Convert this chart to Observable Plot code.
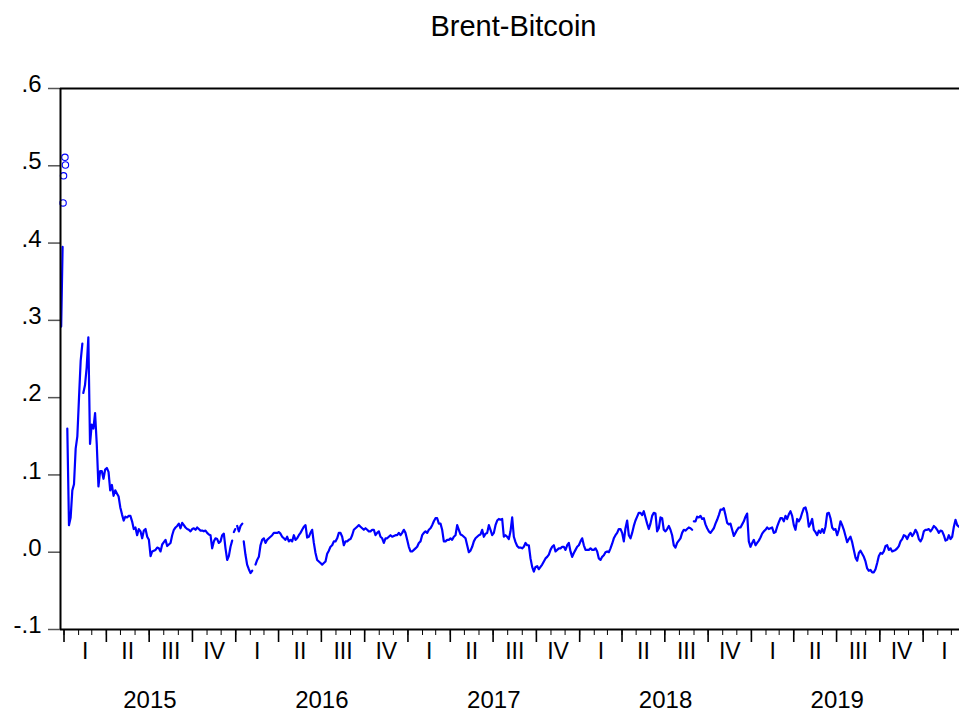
<!DOCTYPE html>
<html>
<head>
<meta charset="utf-8">
<script src="https://cdn.jsdelivr.net/npm/d3@7"></script>
<script src="https://cdn.jsdelivr.net/npm/@observablehq/plot@0.6"></script>
<style>
  html, body { margin: 0; padding: 0; background: #fff; overflow: hidden; }
  #wrap { width: 959px; height: 725px; position: relative; font-family: "Liberation Sans", Arial, sans-serif; overflow: hidden; }
  #title { height: 60px; box-sizing: border-box; padding: 12px 0 0 60px; width: 967px; text-align: center; font-size: 29px; line-height: 29px; color: #000; white-space: nowrap; }
</style>
</head>
<body>
<div id="wrap">
  <div id="title"></div>
  <div id="chart"></div>
</div>
<script>
// ---------- texts and tick labels ----------
const chartTitle = "Brent-Bitcoin";
const yTicks = [-0.1, 0, 0.1, 0.2, 0.3, 0.4, 0.5, 0.6];
const yTickLabels = ["-.1", ".0", ".1", ".2", ".3", ".4", ".5", ".6"];
const quarterLabels = ["I", "II", "III", "IV"];
const yearLabels = [2015, 2016, 2017, 2018, 2019];
const axisStart = "2014-12-24T13:00:00Z";
const axisEnd = "2020-03-18T07:00:00Z";

// ---------- isolated observations (drawn as circles) ----------
const isolatedDates = ["2014-12-30", "2014-12-31", "2015-01-03", "2015-01-04"];
const isolatedValues = [0.452, 0.487, 0.511, 0.501];

// ---------- line segments: [first date, last date] and evenly spaced values ----------
const seg0Span = ["2014-12-26", "2014-12-29"];
const seg0 = [0.292, 0.395];

const seg1Span = ["2015-01-08", "2015-02-09"];
const seg1 = [0.160, 0.035, 0.045, 0.080, 0.088, 0.134, 0.150, 0.200, 0.248, 0.270];

const seg2aSpan = ["2015-02-11", "2015-07-04"];
const seg2a = [0.206, 0.216, 0.239, 0.278, 0.140, 0.165, 0.160, 0.180, 0.140, 0.085,
  0.105, 0.105, 0.095, 0.107, 0.109, 0.104, 0.080, 0.087, 0.073, 0.080,
  0.076, 0.072, 0.058, 0.049, 0.041, 0.046, 0.045, 0.047, 0.047, 0.040,
  0.030, 0.032, 0.022, 0.030, 0.027, 0.018, 0.028, 0.030, 0.020, 0.016, -0.005];

const seg2bSpan = ["2015-07-07T10:00:00Z", "2015-12-24T10:00:00Z"];
const seg2b = [0.001, 0.002, 0.003, 0.006, 0.005, 0.001, 0.010, 0.013, 0.016, 0.008,
  0.010, 0.012, 0.022, 0.029, 0.032, 0.034, 0.037, 0.031, 0.038, 0.035,
  0.032, 0.030, 0.029, 0.027, 0.030, 0.031, 0.029, 0.032, 0.030, 0.028,
  0.028, 0.027, 0.028, 0.025, 0.023, 0.022, 0.005, 0.014, 0.018, 0.017,
  0.012, 0.014, 0.022, 0.024, 0.005, -0.010, -0.005, 0.007, 0.015];

const seg3Span = ["2015-12-28", "2015-12-31"];
const seg3 = [0.026, 0.030];

const seg4Span = ["2016-01-04", "2016-01-15"];
const seg4 = [0.034, 0.027, 0.034, 0.037];

const seg5Span = ["2016-01-18", "2016-02-05"];
const seg5 = [0.014, -0.003, -0.016, -0.022, -0.027, -0.024];

const seg6Span = ["2016-02-12", "2018-02-14T07:00:00Z"];
const seg6 = [-0.016, -0.010, -0.006, 0.009, 0.016, 0.018, 0.012, 0.016, 0.018, 0.020,
  0.022, 0.025, 0.025, 0.025, 0.026, 0.024, 0.020, 0.018, 0.016, 0.020,
  0.014, 0.016, 0.014, 0.022, 0.016, 0.018, 0.022, 0.025, 0.029, 0.033,
  0.035, 0.019, 0.020, 0.025, 0.029, 0.012, -0.001, -0.010, -0.012, -0.014,
  -0.016, -0.014, -0.012, -0.002, 0.002, 0.007, 0.009, 0.014, 0.014, 0.018,
  0.025, 0.025, 0.020, 0.009, 0.014, 0.014, 0.016, 0.017, 0.022, 0.029,
  0.031, 0.033, 0.035, 0.033, 0.031, 0.029, 0.031, 0.029, 0.027, 0.027,
  0.029, 0.029, 0.022, 0.025, 0.027, 0.020, 0.018, 0.012, 0.018, 0.018,
  0.020, 0.022, 0.020, 0.021, 0.022, 0.022, 0.025, 0.022, 0.025, 0.029,
  0.025, 0.016, 0.007, 0.001, 0.001, 0.003, 0.005, 0.007, 0.012, 0.014,
  0.022, 0.025, 0.027, 0.025, 0.029, 0.031, 0.035, 0.040, 0.044, 0.044,
  0.037, 0.037, 0.029, 0.014, 0.014, 0.016, 0.016, 0.018, 0.016, 0.020,
  0.022, 0.035, 0.029, 0.023, 0.022, 0.020, 0.018, 0.009, 0.000, 0.002,
  0.007, 0.014, 0.018, 0.020, 0.022, 0.023, 0.029, 0.020, 0.024, 0.025,
  0.035, 0.029, 0.022, 0.025, 0.035, 0.041, 0.043, 0.042, 0.043, 0.020,
  0.022, 0.020, 0.017, 0.027, 0.045, 0.020, 0.013, 0.008, 0.006, 0.006,
  0.005, 0.007, 0.012, 0.009, 0.009, -0.008, -0.019, -0.025, -0.019, -0.018,
  -0.022, -0.019, -0.016, -0.012, -0.008, -0.006, -0.003, 0.003, 0.007, 0.009,
  0.001, 0.003, 0.005, 0.005, 0.007, 0.007, 0.003, 0.009, 0.012, 0.001,
  -0.006, -0.001, 0.003, 0.007, 0.009, 0.014, 0.018, 0.009, 0.003, 0.003,
  0.003, 0.005, 0.003, 0.003, 0.005, 0.001, -0.008, -0.010];

const seg7Span = ["2018-02-17T19:00:00Z", "2018-08-28"];
const seg7 = [-0.006, -0.004, 0.000, 0.001, 0.000, 0.005, 0.011, 0.018, 0.022, 0.025,
  0.030, 0.030, 0.025, 0.014, 0.031, 0.041, 0.022, 0.018, 0.025, 0.034,
  0.041, 0.046, 0.051, 0.051, 0.048, 0.053, 0.045, 0.037, 0.030, 0.037,
  0.047, 0.051, 0.050, 0.027, 0.031, 0.045, 0.044, 0.029, 0.027, 0.030,
  0.034, 0.029, 0.022, 0.009, 0.006, 0.012, 0.015, 0.018, 0.025, 0.029,
  0.028, 0.030, 0.032, 0.031, 0.029];

const seg8Span = ["2018-08-31T14:00:00Z", "2020-03-16T22:00:00Z"];
const seg8 = [0.040, 0.040, 0.046, 0.045, 0.047, 0.043, 0.044, 0.036, 0.031, 0.027,
  0.025, 0.028, 0.031, 0.037, 0.042, 0.048, 0.055, 0.055, 0.057, 0.048,
  0.038, 0.036, 0.037, 0.029, 0.021, 0.025, 0.029, 0.032, 0.032, 0.036,
  0.040, 0.046, 0.050, 0.014, 0.007, 0.012, 0.016, 0.009, 0.012, 0.015,
  0.019, 0.024, 0.027, 0.029, 0.032, 0.030, 0.031, 0.032, 0.025, 0.026,
  0.033, 0.039, 0.044, 0.044, 0.040, 0.047, 0.043, 0.049, 0.053, 0.047,
  0.035, 0.029, 0.043, 0.040, 0.044, 0.051, 0.057, 0.058, 0.050, 0.033,
  0.037, 0.043, 0.029, 0.026, 0.022, 0.028, 0.025, 0.030, 0.025, 0.033,
  0.050, 0.051, 0.044, 0.032, 0.029, 0.030, 0.022, 0.029, 0.040, 0.035,
  0.029, 0.021, 0.013, 0.017, 0.020, 0.013, 0.003, -0.007, -0.011, -0.001,
  0.002, -0.002, -0.006, -0.012, -0.021, -0.024, -0.023, -0.026, -0.026, -0.022,
  -0.014, -0.005, -0.001, -0.002, 0.001, 0.008, 0.009, 0.003, 0.005, 0.001,
  0.002, 0.003, 0.005, 0.008, 0.014, 0.017, 0.022, 0.021, 0.017, 0.022,
  0.025, 0.021, 0.024, 0.029, 0.025, 0.017, 0.014, 0.018, 0.027, 0.029,
  0.029, 0.030, 0.027, 0.030, 0.034, 0.032, 0.029, 0.025, 0.028, 0.027,
  0.022, 0.015, 0.016, 0.022, 0.017, 0.020, 0.033, 0.042, 0.035, 0.033];

// order of segments; true = the series has missing observations after it
const segmentList = [
  [seg0Span, seg0, true],
  [seg1Span, seg1, true],
  [seg2aSpan, seg2a, false],
  [seg2bSpan, seg2b, true],
  [seg3Span, seg3, true],
  [seg4Span, seg4, true],
  [seg5Span, seg5, true],
  [seg6Span, seg6, false],
  [seg7Span, seg7, true],
  [seg8Span, seg8, false]
];

// ---------- build table for the library ----------
const rows = [];
for (const [span, values, gapAfter] of segmentList) {
  const t0 = new Date(span[0]).getTime();
  const t1 = new Date(span[1]).getTime();
  const n = values.length;
  values.forEach((v, i) => rows.push({date: new Date(n > 1 ? t0 + (t1 - t0) * i / (n - 1) : t0), value: v}));
  if (gapAfter) rows.push({date: new Date(t1 + 3600e3), value: NaN});
}
const isolated = isolatedDates.map((d, i) => ({date: new Date(d), value: isolatedValues[i]}));
const yLabelRows = yTicks.map((v, i) => ({value: v, label: yTickLabels[i]}));

const start = new Date(axisStart), end = new Date(axisEnd);
const monthStarts = d3.utcMonth.range(new Date("2015-01-01"), end);
const quarterStarts = d3.utcMonth.every(3).range(new Date("2015-01-01"), end);
const quarterMids = quarterStarts.map(q => ({
  date: new Date((q.getTime() + d3.utcMonth.offset(q, 3).getTime()) / 2),
  label: quarterLabels[q.getUTCMonth() / 3]
}));
const yearMids = yearLabels.map(y => ({
  date: new Date((Date.UTC(y, 0, 1) + Date.UTC(y + 1, 0, 1)) / 2),
  label: String(y)
}));

document.getElementById("title").textContent = chartTitle;

const chart = Plot.plot({
  width: 959,
  height: 665,
  marginLeft: 60,
  marginRight: 0,
  marginTop: 28,
  marginBottom: 96,
  style: {fontFamily: '"Liberation Sans", Arial, sans-serif', fontSize: "23px", background: "white", color: "black", overflow: "visible"},
  x: {type: "utc", domain: [start, end], label: null},
  y: {domain: [-0.1, 0.6], label: null},
  marks: [
    Plot.axisY(yTicks, {tickSize: 12, tickFormat: () => "", stroke: "#555", strokeWidth: 1.5}),
    Plot.text(yLabelRows, {y: "value", text: "label", frameAnchor: "left", textAnchor: "end",
      dx: -19, dy: -4, fontSize: 24, fill: "black"}),
    Plot.axisX(monthStarts, {tickSize: 6, tickFormat: () => "", stroke: "black", strokeWidth: 1}),
    Plot.axisX(quarterStarts, {tickSize: 13, tickFormat: () => "", stroke: "black", strokeWidth: 1.6}),
    Plot.text(quarterMids, {x: "date", text: "label", frameAnchor: "bottom", dy: 29, fontSize: 23, fill: "black"}),
    Plot.text(yearMids, {x: "date", text: "label", frameAnchor: "bottom", dy: 78, fontSize: 24, fill: "black"}),
    Plot.line(rows, {x: "date", y: "value", stroke: "#0000ff", strokeWidth: 2.2}),
    Plot.dot(isolated, {x: "date", y: "value", r: 3.2, stroke: "#0000ff", fill: "none", strokeWidth: 1.1}),
    Plot.ruleX([start], {stroke: "black", strokeWidth: 2}),
    Plot.ruleY([0.6], {stroke: "black", strokeWidth: 2}),
    Plot.ruleY([-0.1], {stroke: "black", strokeWidth: 2})
  ]
});
document.getElementById("chart").appendChild(chart);
</script>
</body>
</html>
